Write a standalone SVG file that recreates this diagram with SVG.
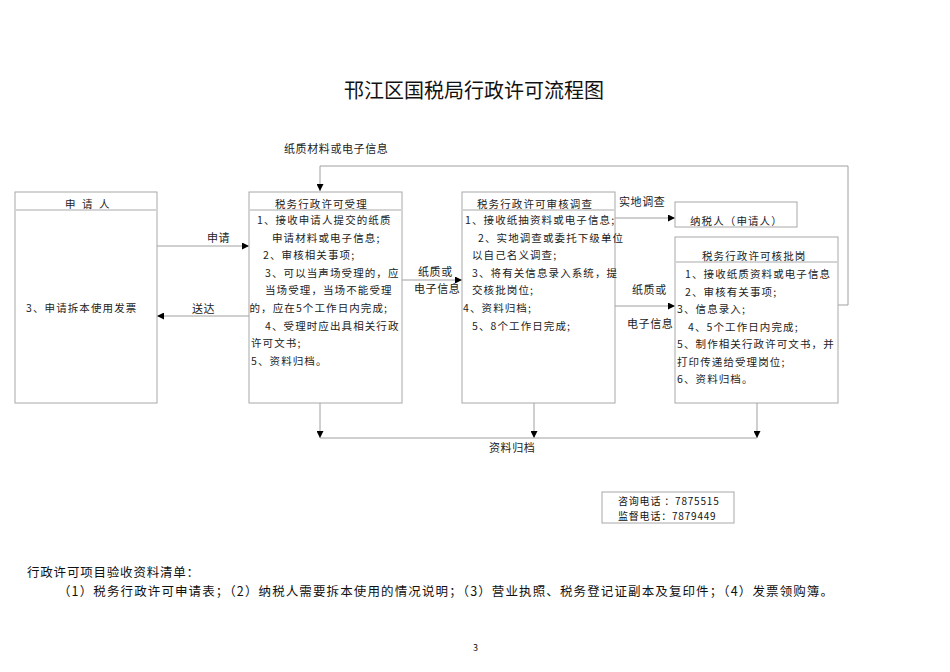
<svg xmlns="http://www.w3.org/2000/svg" width="950" height="672" viewBox="0 0 950 672">
<style>
.bg{fill:#fff}
.box{fill:#fff;stroke:#a8a8a8;stroke-width:1}
.div{stroke:#d4d4d4;stroke-width:2}
.t{font-family:"Noto Sans CJK SC","Liberation Sans",sans-serif;font-size:10.5px;letter-spacing:1.1px;fill:#222}
.lb{font-family:"Noto Sans CJK SC","Liberation Sans",sans-serif;font-size:11px;letter-spacing:0.6px;fill:#222}
.c{fill:none;stroke:#a0a0a0;stroke-width:1}
.doc{font-family:"Noto Sans CJK SC","Liberation Sans",sans-serif;fill:#111}
</style>
<defs>
<marker id="ah" viewBox="0 0 8 8" refX="8" refY="4" markerWidth="8" markerHeight="7" markerUnits="userSpaceOnUse" orient="auto">
<path d="M0,0 L8,4 L0,8 z" fill="#000"/>
</marker>
</defs>
<rect class="bg" x="0" y="0" width="950" height="672"/>

<text class="doc" x="344" y="98" font-size="20">邗江区国税局行政许可流程图</text>

<g id="connectors">
<polyline class="c" points="838,305 848,305 848,166 320,166 320,191" marker-end="url(#ah)"/>
<line class="c" x1="157" y1="246" x2="249" y2="246" marker-end="url(#ah)"/>
<line class="c" x1="249" y1="316" x2="157" y2="316" marker-end="url(#ah)"/>
<line class="c" x1="402" y1="280" x2="462" y2="280" marker-end="url(#ah)"/>
<line class="c" x1="615" y1="218" x2="675" y2="218" marker-end="url(#ah)"/>
<line class="c" x1="615" y1="306" x2="675" y2="306" marker-end="url(#ah)"/>
<line class="c" x1="320" y1="403" x2="320" y2="438" marker-end="url(#ah)"/>
<line class="c" x1="534" y1="403" x2="534" y2="438" marker-end="url(#ah)"/>
<line class="c" x1="757" y1="403" x2="757" y2="438" marker-end="url(#ah)"/>
<line class="c" x1="320" y1="438" x2="757" y2="438"/>
<text class="lb" x="284" y="153">纸质材料或电子信息</text>
<text class="lb" x="207" y="242">申请</text>
<text class="lb" x="192" y="313">送达</text>
<text class="lb" x="418" y="276">纸质或</text>
<text class="lb" x="414" y="293">电子信息</text>
<text class="lb" x="619" y="206">实地调查</text>
<text class="lb" x="632" y="294">纸质或</text>
<text class="lb" x="627" y="328">电子信息</text>
<text class="lb" x="489" y="452" font-size="11.5">资料归档</text>
</g>

<g id="applicant">
<rect class="box" x="15" y="192" width="142" height="211"/>
<line class="div" x1="16" y1="210" x2="156" y2="210"/>
<text class="t" x="65 82 99" y="208">申请人</text>
<text class="t" x="26" y="312">3、申请拆本使用发票</text>
</g>

<g id="accept">
<rect class="box" x="249" y="192" width="153" height="211"/>
<line class="div" x1="250" y1="210" x2="401" y2="210"/>
<text class="t" x="275" y="208">税务行政许可受理</text>
<text class="t" x="257" y="224">1、接收申请人提交的纸质</text>
<text class="t" x="272" y="241.6">申请材料或电子信息;</text>
<text class="t" x="263" y="259.2">2、审核相关事项;</text>
<text class="t" x="265" y="276.8">3、可以当声场受理的，应</text>
<text class="t" x="265" y="294.4">当场受理，当场不能受理</text>
<text class="t" x="249.5" y="312">的，应在5个工作日内完成;</text>
<text class="t" x="265" y="329.6">4、受理时应出具相关行政</text>
<text class="t" x="251" y="347.2">许可文书;</text>
<text class="t" x="251" y="364.8">5、资料归档。</text>
</g>

<g id="review">
<rect class="box" x="462" y="192" width="153" height="211"/>
<line class="div" x1="463" y1="210" x2="614" y2="210"/>
<text class="t" x="477" y="208">税务行政许可审核调查</text>
<text class="t" x="465" y="224">1、接收纸抽资料或电子信息;</text>
<text class="t" x="478" y="241.6">2、实地调查或委托下级单位</text>
<text class="t" x="472" y="259.2">以自己名义调查;</text>
<text class="t" x="472" y="276.8">3、将有关信息录入系统，提</text>
<text class="t" x="472" y="294.4">交核批岗位;</text>
<text class="t" x="463" y="312">4、资料归档;</text>
<text class="t" x="472" y="329.6">5、8个工作日完成;</text>
</g>

<g id="taxpayer">
<rect class="box" x="675" y="202" width="122" height="25"/>
<text class="t" x="690" y="225">纳税人（申请人）</text>
</g>

<g id="approve">
<rect class="box" x="675" y="237" width="163" height="166"/>
<line class="div" x1="676" y1="262" x2="837" y2="262"/>
<text class="t" x="702" y="260">税务行政许可核批岗</text>
<text class="t" x="685" y="278">1、接收纸质资料或电子信息</text>
<text class="t" x="685" y="295.5">2、审核有关事项;</text>
<text class="t" x="677" y="313">3、信息录入;</text>
<text class="t" x="688" y="330.5">4、5个工作日内完成;</text>
<text class="t" x="677" y="348">5、制作相关行政许可文书，并</text>
<text class="t" x="677" y="365.5">打印传递给受理岗位;</text>
<text class="t" x="677" y="383">6、资料归档。</text>
</g>

<g id="contact">
<rect class="box" x="602" y="492" width="132" height="31"/>
<text class="doc" font-size="10" letter-spacing="0.8"><tspan x="618" y="505">咨询电话 ：7875515</tspan><tspan x="618" y="519.5">监督电话：7879449</tspan></text>
</g>

<text class="doc" font-size="12.5"><tspan x="27" y="577" letter-spacing="0.8">行政许可项目验收资料清单：</tspan><tspan x="58" y="596" textLength="775" lengthAdjust="spacing">（1）税务行政许可申请表；（2）纳税人需要拆本使用的情况说明；（3）营业执照、税务登记证副本及复印件；（4）发票领购簿。</tspan></text>
<text class="doc" x="473" y="651" font-size="9">3</text>
</svg>
